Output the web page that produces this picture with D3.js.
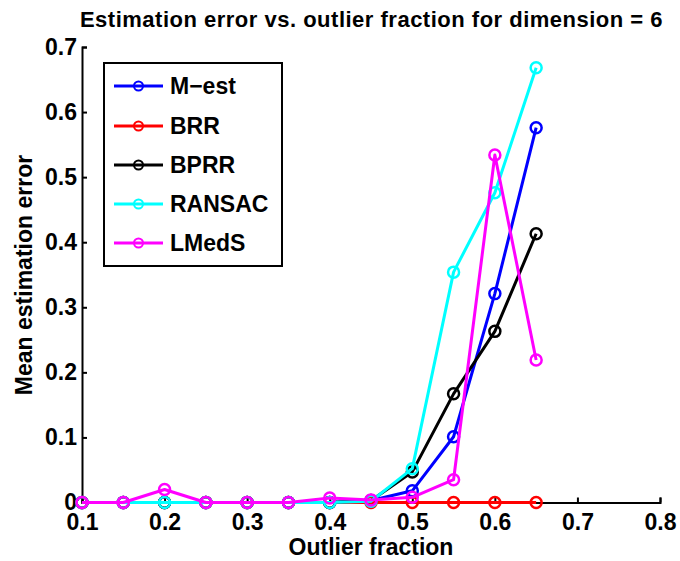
<!DOCTYPE html>
<html><head><meta charset="utf-8">
<script src="https://cdn.jsdelivr.net/npm/d3@7"></script>
<style>body{margin:0;background:#fff}svg{display:block}text{font-family:"Liberation Sans",Arial,sans-serif;font-weight:bold}</style>
</head><body>
<svg id="c" width="680" height="561"></svg>
<script>
const xValues = [0.1,0.15,0.2,0.25,0.3,0.35,0.4,0.45,0.5,0.55,0.6,0.65];
const mest   = [0,0,0,0,0,0,0,0.003,0.018,0.101,0.321,0.576];
const brr    = [0,0,0,0,0,0,0,0,0,0,0,0];
const bprr   = [0,0,0,0,0,0,0,0.003,0.047,0.167,0.263,0.413];
const ransac = [0,0,0,0,0,0,0,0.002,0.052,0.354,0.476,0.668];
const lmeds  = [0,0,0.02,0,0,0,0.007,0.004,0.008,0.035,0.534,0.219];
const seriesNames = ["M\u2212est","BRR","BPRR","RANSAC","LMedS"];
const seriesColors = ["#0000ff","#ff0000","#000000","#00ffff","#ff00ff"];
const xTicks = [0.1,0.2,0.3,0.4,0.5,0.6,0.7,0.8];
const yTicks = [0,0.1,0.2,0.3,0.4,0.5,0.6,0.7];
const series = [mest,brr,bprr,ransac,lmeds];

const svg = d3.select("#c");
const L=82,R=660,T=47,B=502.5;
const x = d3.scaleLinear().domain([0.1,0.8]).range([L,R]);
const y = d3.scaleLinear().domain([0,0.7]).range([B,T]);

const xa = svg.append("g").attr("transform",`translate(0,${B})`)
  .call(d3.axisBottom(x).tickValues(xTicks).tickSizeInner(-5).tickSizeOuter(-5).tickPadding(11).tickFormat(d3.format(".1f")));
const ya = svg.append("g").attr("transform",`translate(${L},0)`)
  .call(d3.axisLeft(y).tickValues(yTicks).tickSizeInner(-5).tickSizeOuter(-5).tickPadding(5).tickFormat(d=>d===0?"0":d3.format(".1f")(d)));
[xa,ya].forEach(a=>{
  a.selectAll("path,line").attr("stroke","#000").attr("stroke-width",2);
  a.selectAll("text").attr("fill","#000").style("font-size","23px").style("font-weight","bold").style("font-family","'Liberation Sans',Arial,sans-serif");
});
xa.selectAll("text").attr("dy","0.71em");

const line = d3.line().x((d,i)=>x(xValues[i])).y(d=>y(d));
series.forEach((s,k)=>{
  const g = svg.append("g");
  g.append("path").datum(s).attr("d",line).attr("fill","none")
   .attr("stroke",seriesColors[k]).attr("stroke-width",3).attr("stroke-linejoin","round");
  g.selectAll("circle").data(s).join("circle")
   .attr("cx",(d,i)=>x(xValues[i])).attr("cy",d=>y(d)).attr("r",5.5)
   .attr("fill","none").attr("stroke",seriesColors[k]).attr("stroke-width",2.5);
});

// legend
const lg = svg.append("g");
lg.append("rect").attr("x",104).attr("y",63).attr("width",178).attr("height",203)
  .attr("fill","#fff").attr("stroke","#000").attr("stroke-width",2);
const ly = [86,126,165,204,243];
seriesNames.forEach((n,k)=>{
  lg.append("line").attr("x1",114).attr("x2",163).attr("y1",ly[k]).attr("y2",ly[k])
    .attr("stroke",seriesColors[k]).attr("stroke-width",3);
  lg.append("circle").attr("cx",138.5).attr("cy",ly[k]).attr("r",4.5)
    .attr("fill","none").attr("stroke",seriesColors[k]).attr("stroke-width",2);
  lg.append("text").attr("x",170).attr("y",ly[k]).attr("dy","0.36em")
    .style("font-size","23px").text(n);
});

svg.append("text").attr("x",371.5).attr("y",27).attr("text-anchor","middle")
  .style("font-size","22px").style("letter-spacing","0.5px").text("Estimation error vs. outlier fraction for dimension = 6");
svg.append("text").attr("x",371).attr("y",555).attr("text-anchor","middle")
  .style("font-size","23px").text("Outlier fraction");
svg.append("text").attr("transform","translate(32,275) rotate(-90)").attr("text-anchor","middle")
  .style("font-size","23px").text("Mean estimation error");
</script>
</body></html>
